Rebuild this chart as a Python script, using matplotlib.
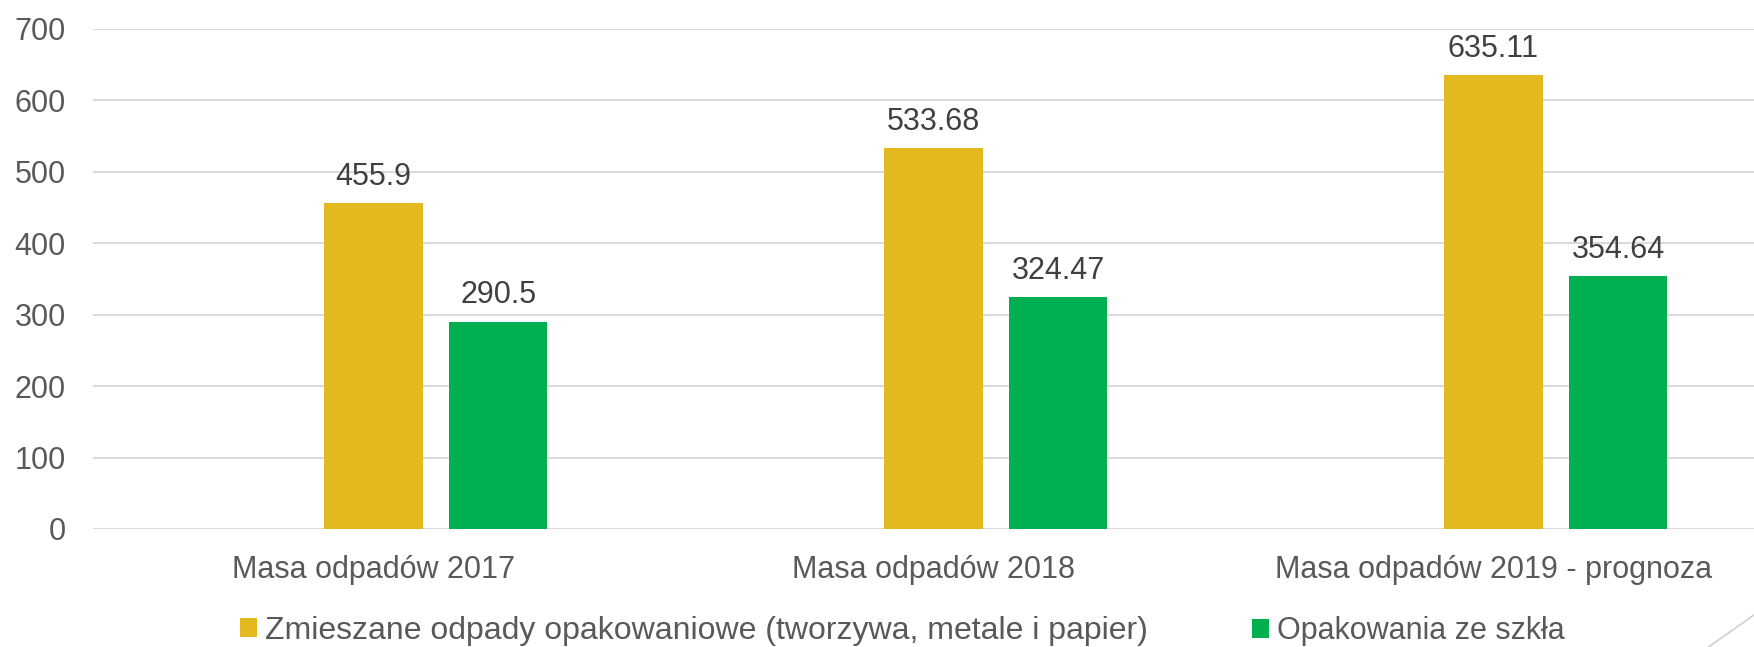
import matplotlib
matplotlib.use("Agg")
import matplotlib.pyplot as plt
from matplotlib.lines import Line2D
import numpy as np

categories = ["Masa odpadów 2017", "Masa odpadów 2018", "Masa odpadów 2019 - prognoza"]
series_names = ["Zmieszane odpady opakowaniowe (tworzywa, metale i papier)", "Opakowania ze szkła"]
mixed_values = [455.9, 533.68, 635.11]
glass_values = [290.5, 324.47, 354.64]
mixed_labels = ["455.9", "533.68", "635.11"]
glass_labels = ["290.5", "324.47", "354.64"]
y_ticks = [0, 100, 200, 300, 400, 500, 600, 700]

YELLOW = "#E4B91F"
GREEN = "#00AF50"
TEXT = "#595959"
LABEL = "#404040"
GRID = "#D9D9D9"

plt.rcParams["font.family"] = ["Liberation Sans", "DejaVu Sans"]
FS = 22

W, H = 1754, 647
fig = plt.figure(figsize=(W / 100, H / 100), dpi=100)
ax = fig.add_axes([93 / W, (H - 529) / H, 1 - 93 / W, (529 - 29) / H])

x = np.arange(len(categories))
width = 0.176
b1 = ax.bar(x + 0.0, mixed_values, width, color=YELLOW, label=series_names[0], zorder=3)
b2 = ax.bar(x + 0.223, glass_values, width, color=GREEN, label=series_names[1], zorder=3)

ax.bar_label(b1, labels=mixed_labels, padding=8, fontsize=FS, color=LABEL)
ax.bar_label(b2, labels=glass_labels, padding=8, fontsize=FS, color=LABEL)

ax.set_ylim(0, 700)
ax.set_xlim(-0.5005, 2.4655)
ax.set_yticks(y_ticks)
ax.set_yticklabels([str(v) for v in y_ticks])
ax.set_xticks(x)
ax.set_xticklabels(categories)
ax.tick_params(axis="y", length=0, pad=19.5, labelsize=FS, labelcolor=TEXT)
ax.tick_params(axis="x", length=0, pad=19, labelsize=FS, labelcolor=TEXT)
for s in ax.spines.values():
    s.set_visible(False)
ax.yaxis.grid(True, color=GRID, linewidth=1.4, zorder=0)
ax.set_axisbelow(True)

leg_y = (H - 631) / H
for handle, name, xpos, fs in [(b1, series_names[0], 240, 23), (b2, series_names[1], 1252, FS)]:
    fig.legend([handle], [name], loc="center left", bbox_to_anchor=(xpos / W, leg_y),
               frameon=False, fontsize=fs, labelcolor=TEXT, handlelength=0.56 * FS / fs,
               handleheight=0.56 * FS / fs, handletextpad=0.26 * FS / fs,
               borderpad=0, borderaxespad=0)

fig.add_artist(Line2D([1700 / W, 1.0], [-6 / H, 32 / H], transform=fig.transFigure,
                      color="#D0D0D0", linewidth=1.2))

fig.savefig("out.png", dpi=100)
